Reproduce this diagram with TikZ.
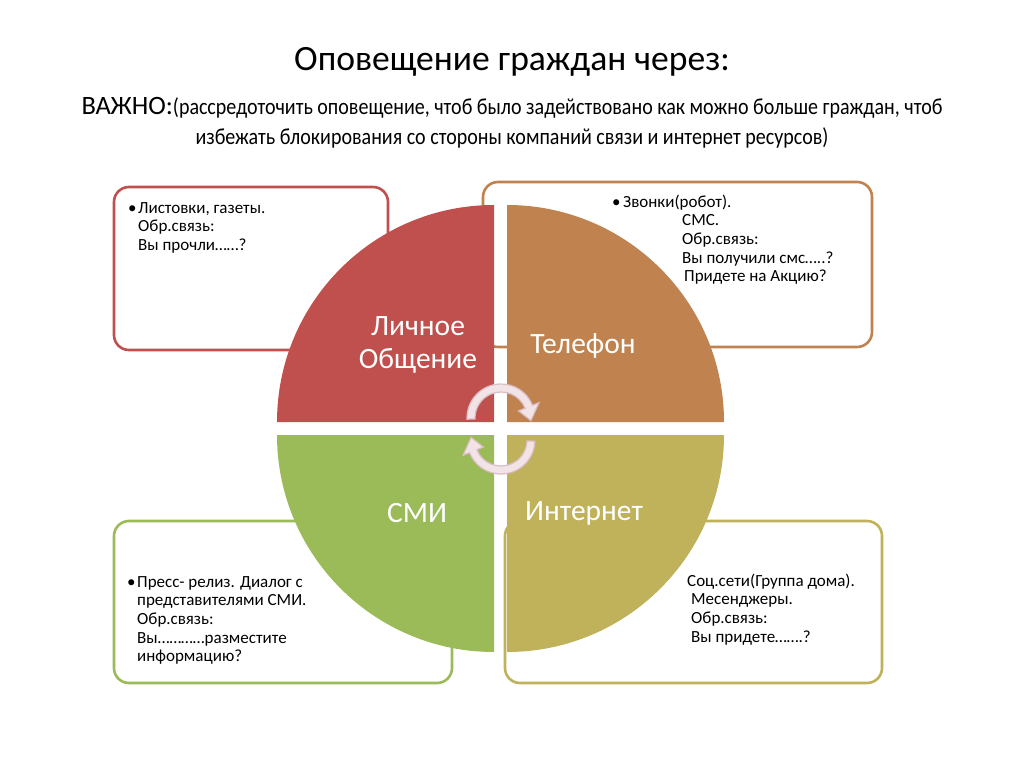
\documentclass[tikz,border=0pt]{standalone}
\usepackage{fontspec}
\setmainfont{Carlito}
\newfontfamily\condfont[FakeStretch=0.87]{Carlito}
\definecolor{qred}{HTML}{C0504D}
\definecolor{qorange}{HTML}{C0824F}
\definecolor{qgreen}{HTML}{9BBB59}
\definecolor{qgold}{HTML}{BFB25A}
\definecolor{arrfill}{HTML}{F2E3E6}
\definecolor{arrline}{HTML}{D9BEC4}
\begin{document}
\begin{tikzpicture}[x=1bp,y=-1bp,
  box/.style={line width=2.6bp, rounded corners=15bp, fill=white},
  qlabel/.style={text=white, font=\fontsize{29.5bp}{33bp}\selectfont, align=center},
  btext/.style={font=\fontsize{17bp}{18.7bp}\selectfont, align=left, anchor=base west, inner sep=0pt},
  carrow/.style={fill=arrfill, draw=arrline, line width=1.2bp}]
\useasboundingbox (0,0) rectangle (1024,767);
\fill[white] (0,0) rectangle (1024,767);
% title
\node (title) at (512,62) {\fontsize{35.6bp}{42bp}\selectfont Оповещение граждан через:};
\node[anchor=base] (sub1) at (512,114) {\fontsize{26.5bp}{30bp}\selectfont ВАЖНО:{\condfont\fontsize{23bp}{28bp}\selectfont(рассредоточить оповещение, чтоб было задействовано как можно больше граждан, чтоб}};
\node[anchor=base] (sub2) at (512,144) {\condfont\fontsize{23bp}{28bp}\selectfont избежать блокирования со стороны компаний связи и интернет ресурсов)};
% boxes
\draw[box, draw=qred] (114,187) rectangle (388,350);
\draw[box, draw=qorange] (483,182) rectangle (872,347);
\draw[box, draw=qgreen] (114,521) rectangle (452,683);
\draw[box, draw=qgold] (505,521) rectangle (882,683);
% quadrants
\fill[qred] (494,422) -- (277,422) arc[start angle=180, end angle=270, radius=217] -- cycle;
\fill[qorange] (507,422) -- (507,205) arc[start angle=270, end angle=360, radius=217] -- cycle;
\fill[qgreen] (494,435) -- (277,435) arc[start angle=180, end angle=90, radius=217] -- cycle;
\fill[qgold] (507,435) -- (724,435) arc[start angle=0, end angle=90, radius=217] -- cycle;
% labels
\node[qlabel] (lq1) at (418,345) {Личное\\Общение};
\node[qlabel] (lq2) at (583,346) {Телефон};
\node[qlabel] (lq3) at (417,513) {СМИ};
\node[qlabel] (lq4) at (584,513) {Интернет};
% circular arrows
\begin{scope}[shift={(501,418)}]
\draw[carrow] (178:34) arc[start angle=178, end angle=338, radius=34]
  -- (338:41) -- (5:30) -- (338:19) -- (338:26)
  arc[start angle=338, end angle=178, radius=26] -- cycle;
\end{scope}
\begin{scope}[shift={(501,440)}]
\draw[carrow] (2:34) arc[start angle=2, end angle=158, radius=34]
  -- (158:41) -- (185:30) -- (158:19) -- (158:26)
  arc[start angle=158, end angle=2, radius=26] -- cycle;
\end{scope}
% box texts (anchor = baseline of last line)
\node[btext] (t1b) at (128,213) {•};
\node[btext] (t1) at (138,250.4) {Листовки, газеты.\\Обр.связь:\\Вы прочли……?};
\node[btext] (t2a) at (612,207) {•};
\node[btext] (t2) at (623,207) {Звонки(робот).};
\node[btext] (t2b) at (682,281.8) {СМС.\\Обр.связь:\\Вы получили смс…..?\\\hspace*{2bp}Придете на Акцию?};
\node[btext] (t3b) at (127,587) {•};
\node[btext] (t3) at (137,661.8) {Пресс- релиз. Диалог с\\представителями СМИ.\\Обр.связь:\\Вы…………разместите\\информацию?};
\node[btext] (t4) at (687,642.1) {Соц.сети(Группа дома).\\\hspace*{4bp}Месенджеры.\\\hspace*{4bp}Обр.связь:\\\hspace*{4bp}Вы придете…….?};
\end{tikzpicture}
\end{document}
